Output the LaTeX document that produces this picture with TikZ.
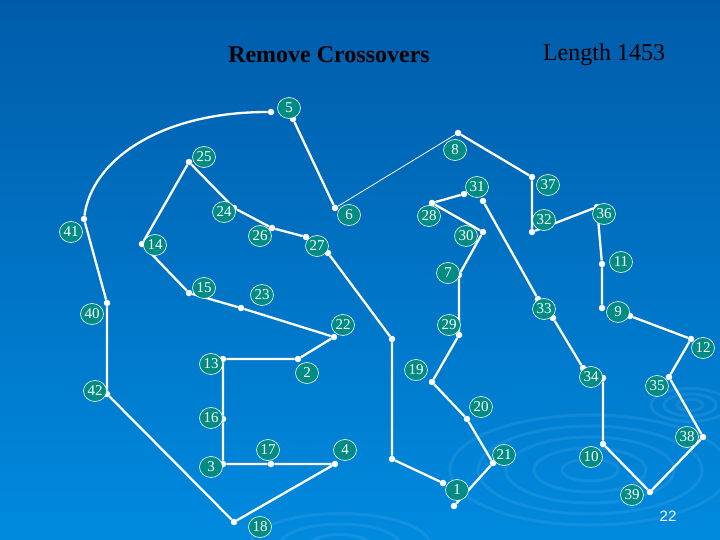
\documentclass[tikz,border=0pt]{standalone}
\usepackage{fontspec}
\setmainfont{Liberation Serif}
\newfontfamily\pgfont{Liberation Sans}
\usetikzlibrary{shapes.geometric}
\definecolor{bgtop}{RGB}{0,92,170}
\definecolor{bgbot}{RGB}{0,138,222}
\definecolor{lab}{RGB}{0,140,132}
\begin{document}
\begin{tikzpicture}[x=1pt,y=-1pt,
  dot/.style={circle,fill=white,inner sep=0pt,minimum size=6.5pt},
  tag/.style={ellipse,draw=white,line width=0.6pt,fill=lab,text=white,inner sep=0pt,minimum width=23pt,minimum height=21pt,font=\fontsize{15}{15}\selectfont},
  edge/.style={white,line width=2.3pt},
  thin/.style={white,line width=0.8pt}]
\shade[top color=bgtop,bottom color=bgbot] (0,0) rectangle (720,540);
\useasboundingbox (0,0) rectangle (720,540);
\begin{scope}[bgbot!60!white,opacity=0.18,line width=3pt]
\foreach \r in {20,40,60,80,100}{\draw (590,470) ellipse ({\r*1.4} and {\r*0.55});}
\foreach \r in {15,30,45}{\draw (340,545) ellipse ({\r*2} and {\r*0.7});}
\foreach \r in {10,20,30}{\draw (690,405) ellipse ({\r*1.3} and {\r*0.55});}
\end{scope}
% points
\foreach \n/\x/\y in {p5a/271/112,p5/293/119,p6/335/208,p8/458/133,p37/532/177,p32/532/232,p36/597/207,p11/602/264,p9d/602/308,p9/630/316,p12/691/339,p35/669/377,p38/703/437,p39/650/492,p10/603/444,p34b/603/378,p34a/583/368,p33b/553/318,p33a/538/299,p31b/483/201,p31a/464/194,p28/432/203,p30/483/232,p7/459/275,p29/459/335,p19/432/382,p20/467/419,p21/493/463,p1b/454/506,p1a/443/483,pB/392/459,pA/392/339,p27b/328/253,p27/306/237,p26/272/228,p24/234/208,p25/189/162,p14/142/244,p15/189/293,p23/241/308,p22/334/337,p2/298/359,p13/223/359,p16/223/419,p3/223/464,p17/271/464,p4/335/464,p18/234/522,p42/107/394,p40/107/303,p41/84/219}
  {\node[dot] (\n) at (\x,\y) {};}
\draw[edge] (p5a) .. controls (160,112) and (92,160) .. (p41);
\draw[edge] (p41)--(p40)--(p42)--(p18)--(p4)--(p17)--(p3)--(p16)--(p13)--(p2)--(p22)--(p23)--(p15)--(p14)--(p25)--(p24)--(p26)--(p27);
\draw[edge] (p27b)--(pA)--(pB)--(p1a);
\draw[edge] (p1b)--(p21)--(p20)--(p19)--(p29)--(p7)--(p30)--(p28)--(p31a);
\draw[edge] (p31b)--(p33a);
\draw[edge] (p33b)--(p34a);
\draw[edge] (p34b)--(p10)--(p39)--(p38)--(p35)--(p12)--(p9);
\draw[edge] (p9d)--(p11)--(p36)--(p32)--(p37)--(p8);
\draw[thin] (p8)--(p6);
\draw[edge] (p6)--(p5);
% labels
\foreach \t/\x/\y in {5/289/108,25/204/157,8/455/150,31/477/187,37/548/185,24/224/212,6/349/215,28/429/216,32/544/220,36/604/214,41/71/232,26/260/236,30/466/236,14/155/245,27/317/246,11/621/262,7/448/273,15/204/288,23/262/295,40/92/314,33/544/309,9/618/312,22/343/325,29/449/325,12/703/348,13/211/364,2/307/373,19/416/370,34/591/377,35/657/386,42/95/391,20/481/407,16/211/418,38/687/437,17/268/450,4/345/450,21/504/455,10/591/457,3/211/467,1/457/490,39/632/495,18/260/527}
  {\node[tag] (l\t) at (\x,\y) {\t};}
\node[font=\fontsize{24}{24}\selectfont\bfseries,text=black] (title) at (329,55) {Remove Crossovers};
\node[font=\fontsize{24}{24}\selectfont,text=black] (len) at (604,55) {Length 1453};
\node[font=\pgfont\fontsize{15}{15}\selectfont,text=white] (pg) at (668,516) {22};
\end{tikzpicture}
\end{document}
